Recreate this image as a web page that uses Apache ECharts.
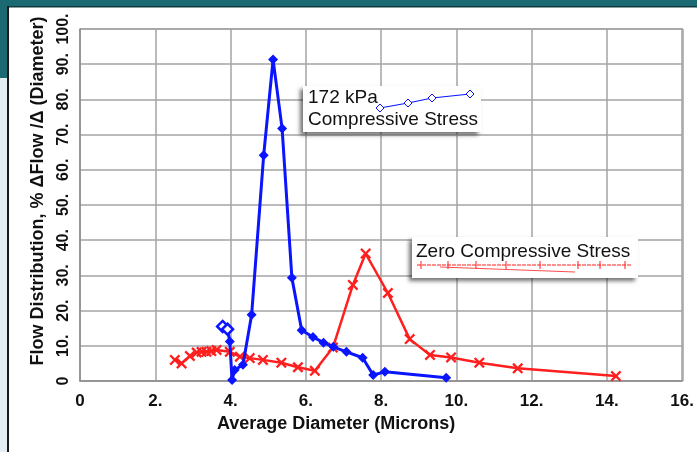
<!DOCTYPE html>
<html>
<head>
<meta charset="utf-8">
<script src="https://cdn.jsdelivr.net/npm/echarts@6/dist/echarts.min.js"></script>
<style>
html, body { margin: 0; padding: 0; background: #fff; }
#chart { width: 697px; height: 452px; }
</style>
</head>
<body>
<div id="chart"></div>
<script>
// 172 kPa compressive stress (blue diamonds)
var blueX = [3.79, 3.92, 3.98, 4.04, 4.11, 4.33, 4.56, 4.88, 5.13, 5.37, 5.63, 5.89, 6.19, 6.47, 6.73, 7.08, 7.51, 7.79, 8.10, 9.73];
var blueY = [15.5, 14.7, 11.2, 0.3, 3.1, 4.6, 18.8, 64.1, 91.3, 71.7, 29.3, 14.4, 12.5, 10.9, 9.7, 8.3, 6.6, 1.7, 2.6, 0.9];
// zero compressive stress (red crosses)
var redX = [2.52, 2.70, 2.92, 3.10, 3.23, 3.36, 3.49, 3.63, 3.98, 4.25, 4.51, 4.86, 5.35, 5.79, 6.24, 6.72, 7.25, 7.59, 8.18, 8.76, 9.30, 9.86, 10.61, 11.63, 14.24];
var redY = [6.0, 5.0, 7.1, 8.1, 8.3, 8.3, 8.5, 8.8, 8.3, 6.9, 6.5, 6.0, 5.2, 3.9, 2.9, 9.5, 27.3, 36.2, 25.0, 11.9, 7.4, 6.7, 5.2, 3.6, 1.4];
var xTicks = [0, 2, 4, 6, 8, 10, 12, 14, 16];
var yTicks = [0, 10, 20, 30, 40, 50, 60, 70, 80, 90, 100];

var BLUE = '#0a14ff';
var RED = '#ff1f1f';
var CROSS = 'path://M0,1.5L1.5,0L5,3.5L8.5,0L10,1.5L6.5,5L10,8.5L8.5,10L5,6.5L1.5,10L0,8.5L3.5,5Z';
var FONT = '"Liberation Sans", Arial, sans-serif';

function pairs(xs, ys) {
    var out = [];
    for (var i = 0; i < xs.length; i++) {
        out.push([xs[i], ys[i]]);
    }
    return out;
}

var blueData = pairs(blueX, blueY).map(function (p, i) {
    // first two points are drawn as open diamonds
    if (i < 2) {
        return {value: p, symbolSize: 11, itemStyle: {color: '#fff', borderColor: BLUE, borderWidth: 2.5}};
    }
    return p;
});

// legend boxes drawn by hand, they sit inside the plot like the original
var legendGraphics = [
    {
        type: 'rect', shape: {x: 303, y: 86, width: 178, height: 46},
        style: {fill: '#fff', shadowBlur: 4, shadowOffsetX: -3, shadowOffsetY: 3, shadowColor: 'rgba(0,0,0,0.55)'},
        z: 10
    },
    {type: 'text', x: 308, y: 98, style: {text: '172 kPa', font: '19px ' + FONT, fill: '#111', verticalAlign: 'middle'}, z: 11},
    {type: 'text', x: 308, y: 120, style: {text: 'Compressive Stress', font: '19px ' + FONT, fill: '#111', verticalAlign: 'middle'}, z: 11},
    {type: 'polyline', shape: {points: [[380, 108], [408, 103], [432, 98], [470, 94]]}, style: {stroke: BLUE, lineWidth: 1.2, fill: null}, z: 11},
    {
        type: 'rect', shape: {x: 412, y: 237, width: 226, height: 41},
        style: {fill: '#fff', shadowBlur: 4, shadowOffsetX: -3, shadowOffsetY: 3, shadowColor: 'rgba(0,0,0,0.55)'},
        z: 10
    },
    {type: 'text', x: 416, y: 252, style: {text: 'Zero Compressive Stress', font: '19px ' + FONT, fill: '#111', verticalAlign: 'middle'}, z: 11},
    {type: 'line', shape: {x1: 417, y1: 265, x2: 632, y2: 265}, style: {stroke: RED, lineWidth: 1, lineDash: [4, 1]}, z: 11},
    {type: 'line', shape: {x1: 440, y1: 267, x2: 575, y2: 272}, style: {stroke: RED, lineWidth: 0.8}, z: 11}
];
[[380, 108], [408, 103], [432, 98], [470, 94]].forEach(function (p) {
    legendGraphics.push({
        type: 'polygon', shape: {points: [[p[0], p[1] - 4], [p[0] + 4, p[1]], [p[0], p[1] + 4], [p[0] - 4, p[1]]]},
        style: {fill: '#fff', stroke: BLUE, lineWidth: 1}, z: 12
    });
});
[421, 448, 476, 506, 540, 578, 600, 625].forEach(function (x) {
    legendGraphics.push({type: 'line', shape: {x1: x, y1: 261, x2: x, y2: 269}, style: {stroke: RED, lineWidth: 1}, z: 12});
});

// frame around the picture (teal band, pale strip, dark rule)
var frameGraphics = [
    {type: 'rect', shape: {x: 0, y: 0, width: 697, height: 6}, style: {fill: '#1b6a73'}, z: -5},
    {type: 'rect', shape: {x: 0, y: 6, width: 697, height: 1.5}, style: {fill: '#0e3b40'}, z: -5},
    {type: 'rect', shape: {x: 0, y: 0, width: 7, height: 78}, style: {fill: '#1b6a73'}, z: -5},
    {type: 'rect', shape: {x: 0, y: 78, width: 7, height: 374}, style: {fill: '#e4edf1'}, z: -5},
    {type: 'rect', shape: {x: 7, y: 6, width: 2, height: 446}, style: {fill: '#1a1a1a'}, z: -5}
];

var option = {
    backgroundColor: '#fff',
    animation: false,
    grid: {left: 80, right: 14, top: 29, bottom: 71},
    xAxis: {
        type: 'value',
        min: xTicks[0],
        max: xTicks[xTicks.length - 1],
        interval: 2,
        name: 'Average Diameter (Microns)',
        nameLocation: 'middle',
        nameGap: 33,
        nameTextStyle: {fontFamily: FONT, fontWeight: 'bold', fontSize: 18, color: '#111', padding: [0, 90, 0, 0]},
        axisLine: {lineStyle: {color: '#8a8a8a', width: 1.5}},
        axisTick: {show: false},
        axisLabel: {
            margin: 12,
            fontFamily: FONT, fontWeight: 'bold', fontSize: 17, color: '#111',
            formatter: function (v) { return v === 0 ? '0' : v + '.'; }
        },
        splitLine: {show: true, lineStyle: {color: '#a3a3a3', width: 1.5}}
    },
    yAxis: {
        type: 'value',
        min: yTicks[0],
        max: yTicks[yTicks.length - 1],
        interval: 10,
        name: 'Flow Distribution, % \u0394Flow /\u0394 (Diameter)',
        nameLocation: 'middle',
        nameGap: 33,
        nameRotate: 90,
        nameTextStyle: {fontFamily: FONT, fontWeight: 'bold', fontSize: 18, color: '#111', padding: [0, 0, 0, 28]},
        axisLine: {show: true, lineStyle: {color: '#8a8a8a', width: 1.5}},
        axisTick: {show: false},
        axisLabel: {
            rotate: 90,
            margin: 8,
            fontFamily: FONT, fontWeight: 'bold', fontSize: 16, color: '#111',
            formatter: function (v) { return v === 0 ? '0' : v + '.'; }
        },
        splitLine: {show: true, lineStyle: {color: '#a3a3a3', width: 1.5}}
    },
    graphic: frameGraphics.concat([
        {type: 'line', shape: {x1: 80, y1: 29, x2: 683, y2: 29}, style: {stroke: '#a3a3a3', lineWidth: 1.5}},
        {type: 'line', shape: {x1: 683, y1: 29, x2: 683, y2: 381}, style: {stroke: '#a3a3a3', lineWidth: 1.5}}
    ]).concat(legendGraphics),
    series: [
        {
            name: '172 kPa Compressive Stress',
            type: 'line',
            data: blueData,
            symbol: 'diamond',
            symbolSize: 10,
            showAllSymbol: true,
            lineStyle: {color: BLUE, width: 3},
            itemStyle: {color: BLUE},
            z: 3
        },
        {
            name: 'Zero Compressive Stress',
            type: 'line',
            data: pairs(redX, redY),
            symbol: CROSS,
            symbolSize: 11,
            showAllSymbol: true,
            lineStyle: {color: RED, width: 2.5},
            itemStyle: {color: RED},
            z: 2
        }
    ]
};

var chart = echarts.init(document.getElementById('chart'));
chart.setOption(option);
</script>
</body>
</html>
